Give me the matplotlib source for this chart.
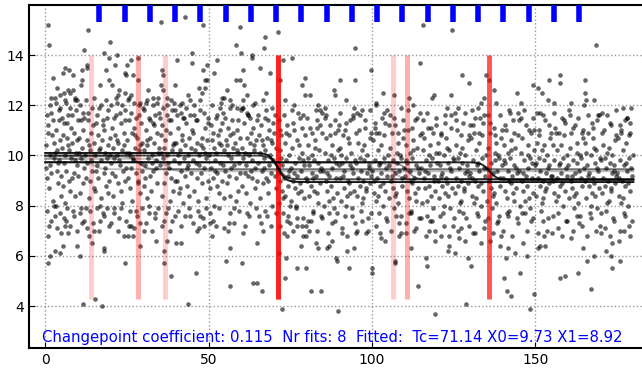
import numpy as np
import matplotlib
matplotlib.use('Agg')
import matplotlib.pyplot as plt

high_pts = """
0.8 15.2 1.2 14.4 13.0 15.0 12.0 14.2 18.1 14.1 19.9 14.5 19.6 13.9 22.1 14.0 26.2 13.8 16.8 12.8
18.7 13.4 21.4 13.6 25.0 13.6 24.7 13.2 26.8 13.2 2.5 13.1 3.6 12.7 2.9 12.3 1.8 12.3 4.6 12.4
5.6 12.5 6.1 13.5 5.4 13.3 7.3 13.4 8.5 13.2 11.2 13.4 12.7 13.6 12.9 13.5 8.5 12.6 6.9 12.6
7.6 12.5 11.0 12.8 11.2 13.0 9.2 12.2 9.7 12.2 6.3 12.1 19.4 13.0 20.4 12.8 22.4 12.4 22.6 12.6
25.5 12.3 26.2 12.4 24.5 12.5 21.9 12.1 24.3 13.3 28.4 13.0 28.9 12.1 31.4 12.6 32.9 12.3 34.1 12.1
35.5 12.8 35.9 12.6 35.6 13.4 35.9 13.2 37.2 12.3 39.8 12.8 40.3 13.8 38.4 12.2 39.4 12.1 42.0 12.1
43.7 12.4 44.3 12.2 45.0 13.7 44.9 14.1 48.3 13.4 48.9 13.0 49.6 13.6 47.2 12.7 47.9 12.5 49.4 13.0
51.5 13.3 28.3 13.9 30.8 12.1 35.4 15.3 42.9 15.5 48.3 15.2 59.7 15.1 71.1 14.9 67.3 14.7 67.1 14.3
58.4 14.4 59.9 14.1 63.4 14.0 63.3 13.9 52.7 13.8 65.6 13.5 60.4 13.4 68.9 13.3 72.8 13.8 75.5 13.9
71.9 13.0 79.6 13.1 94.7 14.3 90.1 13.0 94.7 13.0 99.8 13.4 78.6 12.8 88.3 12.6 88.8 12.4 79.6 12.4
67.5 12.5 58.5 13.0 60.7 12.8 59.5 13.0 55.7 12.6 54.2 12.3 54.7 12.3 56.7 12.2 61.7 12.4 48.8 12.7
101.2 12.1 106.8 12.4 111.4 12.3 53.5 11.9 56.7 11.9 58.7 11.9 60.2 11.9 61.7 11.7 62.2 11.6 64.2 12.1
83.5 12.0 84.0 11.8 78.9 11.6 94.4 11.9 94.1 11.5 89.9 11.2 83.1 11.1 101.3 12.0 73.5 12.2 76.0 12.0
81.0 12.4 85.5 11.9 92.0 12.2 97.0 11.8 103.5 12.5 109.0 11.9 112.5 12.0 104.5 11.8
115.6 15.2 124.5 15.0 168.6 14.4 114.8 13.7 127.5 13.2 129.6 12.9 134.9 13.2 135.7 13.0 137.4 12.6
144.4 12.5 149.3 12.8 150.7 12.7 152.0 12.5 154.1 13.0 157.4 13.2 157.6 12.9 165.1 13.0 165.1 12.5
165.6 12.2 167.8 12.2 124.3 12.4 118.4 12.3 119.1 12.4 134.2 12.3 133.5 12.1 138.0 12.1 145.7 12.1
153.9 12.2 155.6 12.1 160.9 12.1 164.8 12.0 176.8 11.9 179.3 11.9 141.8 11.8 151.3 11.7 130.6 11.8
132.3 11.9 123.0 11.9 126.3 11.9 169.6 11.6 178.2 11.5
"""

low_pts = """
0.8 5.7 1.5 6.0 0.8 6.8 1.2 7.2 2.9 6.2 4.6 6.1 5.3 6.4 4.8 6.9 7.1 6.9 6.1 7.2
9.7 6.4 10.5 6.0 10.7 7.7 13.3 6.8 14.8 7.0 14.3 6.5 15.1 4.3 11.7 4.1 17.5 4.0 18.1 6.3
17.9 6.2 16.8 7.4 19.4 7.2 24.0 6.8 25.3 6.8 26.8 6.8 24.3 5.7 29.1 6.4 30.1 7.0 29.1 7.3
25.5 7.2 33.9 6.6 36.2 6.2 36.4 5.7 38.5 5.2 37.2 6.6 40.0 6.5 41.5 6.5 38.8 7.4 43.7 4.1
46.2 5.3 47.0 7.1 50.3 7.3 55.3 5.8 56.5 6.3 56.5 4.8 60.2 5.7 60.5 6.9 63.5 4.9 64.9 4.9
66.4 4.6 64.8 6.5 66.6 7.0 68.0 7.6 56.0 7.0 52.4 7.2 50.9 6.8 72.6 3.9 73.5 5.1 73.8 5.9
74.0 6.8 71.4 6.1 77.0 5.5 79.9 5.5 78.2 6.4 81.3 4.6 84.3 4.6 82.9 6.5 83.6 6.3 86.8 6.4
86.1 6.3 87.8 6.6 89.0 5.9 89.3 5.8 89.6 3.8 90.8 6.9 92.3 6.2 93.0 5.5 94.6 6.3 95.2 6.9
99.9 5.5 100.0 5.3 98.9 7.0 102.5 6.9 106.9 5.8 107.1 5.7 108.3 6.8 114.1 4.8 78.7 7.2 80.7 7.0
79.7 6.8 74.0 7.4 77.0 7.2 119.4 3.7 119.4 6.6 116.8 5.6 116.5 5.9 123.2 6.2 123.7 6.4 125.5 6.1
126.6 6.7 128.6 6.6 129.4 5.9 130.3 5.6 128.8 4.1 133.5 6.5 139.1 6.4 139.6 6.8 140.9 5.9 140.3 5.1
141.3 4.6 142.6 4.4 141.7 6.3 143.9 6.1 145.4 5.3 146.2 6.5 147.4 6.0 148.5 3.9 149.5 4.5 150.7 6.3
151.3 6.4 153.0 6.4 152.5 6.8 157.4 5.1 159.2 5.2 163.1 5.3 164.7 6.3 165.9 5.8 167.0 4.7 167.8 6.0
173.5 5.5 173.3 6.0 173.5 6.5 176.0 5.8 175.5 6.6 179.1 6.8 177.1 7.0 127.2 7.1 104.0 6.6 110.5 6.9
112.0 6.3 113.0 7.0 117.5 7.0 121.0 6.8 131.5 6.9 136.0 6.6 155.0 6.9 161.0 6.7 170.0 6.9 171.5 6.2
"""

# points on the edges of the dense band
edge_pts = """
0.4 11.6 1.5 12.0 2.4 11.4 3.3 12.1 4.2 11.8 5.0 11.5 5.9 12.2 6.6 11.3 7.5 11.9 8.2 11.6 9.0 12.3 9.9 11.4
10.7 12.0 11.6 11.7 12.5 12.2 13.2 11.4 14.2 11.9 15.0 12.3 15.9 11.6 17.0 12.0 17.7 11.4 18.5 12.2 19.1 11.8
20.0 12.0 20.9 11.5 21.8 12.3 22.8 11.7 23.5 12.0 24.4 11.4 25.2 12.2 26.1 11.7 27.1 12.1 27.8 11.5 28.7 12.0
29.4 11.3 30.2 11.8 31.1 12.2 32.1 11.4 33.0 12.0 33.7 11.6 34.6 12.3 35.2 11.5 36.1 11.9 37.3 12.0 38.0 11.4
38.9 11.8 40.2 11.6 41.1 12.0 42.1 11.5 43.0 11.9 44.2 11.6 45.4 12.0 46.4 11.4 47.3 12.2 48.5 11.7 49.9 11.5
51.1 12.0 52.5 11.6 53.9 12.1 55.0 11.5 57.1 12.0 58.9 11.4 60.4 12.2 62.8 11.5 63.7 12.0 65.2 11.6 66.8 12.2
68.2 11.4 69.4 11.9 70.3 11.6
0.6 7.8 1.7 7.4 2.7 8.0 3.6 7.1 4.4 7.7 5.7 7.5 6.8 7.9 7.7 7.2 8.8 7.6 9.6 7.0 10.9 7.9 11.8 7.4 12.8 7.1
13.7 7.8 14.5 7.3 15.7 7.9 16.6 7.0 18.0 7.6 18.9 7.9 20.2 7.3 21.1 7.7 22.3 7.0 23.2 7.9 24.6 7.4 25.9 7.8
27.3 7.1 28.2 7.6 29.7 7.9 30.7 7.3 31.8 7.7 32.8 7.0 33.5 7.5 34.4 7.9 35.7 7.2 37.1 7.7 38.2 7.0 39.6 7.6
40.7 7.8 41.6 7.2 42.8 7.6 43.9 7.9 45.2 7.3 46.6 7.0 47.5 7.6 48.7 7.2 49.2 7.9 51.4 7.4 53.2 7.9 54.6 7.1
56.4 7.7 57.8 7.3 59.2 7.8 61.1 7.2 62.5 7.6 64.4 7.9 65.9 7.3 67.3 7.8 69.2 7.2 70.6 7.7
72.0 11.0 73.2 11.6 74.6 10.8 75.9 11.3 77.3 11.7 78.5 11.1 80.2 11.5 81.6 10.9 82.8 11.8 84.2 11.2 85.9 11.6
87.3 10.8 88.7 11.4 90.2 11.7 91.6 11.0 93.2 11.4 95.0 10.9 96.4 11.6 98.0 11.1 99.4 11.8 100.9 11.3 102.3 10.9
103.7 11.7 105.2 11.2 106.6 11.5 108.0 10.9 109.6 11.4 111.1 11.8 112.3 11.1 113.9 11.5 115.4 10.9 116.8 11.7
118.2 11.1 119.6 11.5 121.1 10.8 122.5 11.6 124.2 11.1 125.7 11.4 127.1 10.8 128.5 11.7 130.0 11.2 131.4 11.5
132.8 10.9 134.4 11.6 136.1 11.3 137.5 10.8 139.2 11.6 140.7 11.2 142.1 11.7 143.5 10.9 145.0 11.4 146.6 11.8
148.0 11.0 149.4 11.5 151.0 10.8 152.3 11.6 154.2 11.2 155.7 11.7 157.3 10.9 158.8 11.4 160.2 11.8 161.6 11.1
163.0 11.5 164.4 10.9 166.1 11.6 167.5 11.1 169.0 11.4 170.4 10.9 171.8 11.6 173.2 11.2 174.6 11.8 176.1 11.0
177.5 11.4 178.9 10.9
71.8 7.2 73.0 6.9 74.4 7.6 75.7 7.0 77.1 7.5 78.9 6.8 80.4 7.4 81.8 7.7 83.2 7.0 84.6 7.5 86.4 6.9 87.8 7.3
89.4 7.7 90.9 7.1 92.5 6.8 93.9 7.6 95.4 7.0 96.8 7.4 98.2 6.9 99.6 7.7 101.1 7.2 102.8 6.7 104.2 7.5 105.7 7.0
107.3 7.6 108.9 6.9 110.4 7.3 111.8 7.7 113.5 7.1 115.0 7.5 116.4 6.8 117.8 7.4 119.2 7.0 120.7 7.6 122.1 7.2
123.5 6.8 125.0 7.5 126.4 7.0 127.8 7.7 129.6 7.2 131.0 6.9 132.5 7.6 134.2 7.1 135.6 7.5 137.1 6.9 138.6 7.4
140.0 7.0 141.6 7.6 143.0 6.8 144.6 7.3 146.0 7.7 147.5 7.0 149.2 7.5 150.9 6.9 152.2 7.4 153.7 7.0 155.3 7.6
156.8 7.1 158.2 6.8 159.6 7.4 161.4 7.0 162.8 7.6 164.2 7.2 165.7 6.8 167.1 7.5 168.5 7.0 170.0 7.7 171.4 7.1
172.8 6.8 174.2 7.4 175.9 7.0 177.3 7.6 178.7 7.2
"""

# dense band before the changepoint
mid_pts_a = """
0.2 10.4 0.5 9.1 0.9 11.2 1.1 8.7 1.4 10.0 1.6 9.6 1.9 11.7 2.1 10.8 2.3 8.2 2.6 9.9 2.8 10.5 3.0 7.6 3.2 11.0 3.5 9.4
3.7 10.2 3.9 8.9 4.1 11.4 4.3 9.8 4.5 10.6 4.7 8.4 4.9 9.2 0.7 10.9 1.8 9.3 2.9 10.1 3.4 8.0 4.0 9.7 4.4 11.9 0.1 9.5
5.1 10.3 5.3 8.8 5.6 9.7 5.8 11.3 6.0 10.0 6.2 8.1 6.5 9.4 6.7 10.7 6.9 11.6 7.2 9.0 7.4 10.2 7.6 8.6 7.8 9.9 8.0 11.1
8.3 10.5 8.5 7.8 8.7 9.3 8.9 10.9 9.1 8.4 9.3 10.1 9.5 11.8 9.8 9.6 5.5 10.8 6.4 7.4 7.1 10.4 8.1 9.1 9.0 9.8 9.7 10.6
10.1 9.2 10.3 10.7 10.6 8.5 10.8 11.4 11.0 9.9 11.3 10.3 11.5 8.9 11.7 11.0 12.0 9.5 12.2 10.0 12.4 7.9 12.7 10.6 12.9 9.7 13.1 11.7
13.4 8.3 13.6 10.2 13.8 9.0 14.1 10.9 14.3 9.4 14.6 11.2 14.8 8.7 10.4 10.1 11.2 7.3 11.9 11.5 12.6 9.1 13.3 10.4 14.0 9.8 14.9 10.5
15.1 10.0 15.3 8.6 15.5 11.3 15.8 9.6 16.0 10.8 16.2 9.1 16.5 11.9 16.7 8.0 16.9 10.3 17.2 9.8 17.4 10.6 17.6 7.7 17.9 9.3 18.1 11.0
18.3 10.1 18.6 8.8 18.8 9.9 19.0 11.5 19.2 10.4 19.5 9.0 19.7 10.7 15.6 9.4 16.4 10.2 17.1 8.3 17.8 11.2 18.4 9.5 19.3 8.5 19.9 10.0
20.1 9.7 20.3 11.1 20.6 10.3 20.8 8.4 21.0 9.9 21.3 10.8 21.5 9.2 21.7 11.6 22.0 10.0 22.2 8.9 22.4 10.5 22.7 7.5 22.9 9.6 23.1 11.3
23.4 10.2 23.6 8.1 23.8 9.4 24.1 10.9 24.3 9.0 24.5 11.8 24.8 10.1 20.4 9.3 21.2 7.9 21.9 10.6 22.5 9.8 23.3 8.6 24.0 10.4 24.7 9.5
25.1 10.6 25.3 9.1 25.6 11.4 25.8 8.7 26.0 10.0 26.3 9.5 26.5 10.9 26.7 8.2 27.0 9.8 27.2 11.1 27.4 10.3 27.7 9.3 27.9 7.8 28.1 10.7
28.4 9.0 28.6 11.6 28.8 10.2 29.1 8.5 29.3 9.7 29.5 10.5 29.8 11.9 25.5 10.1 26.2 7.2 26.9 9.9 27.6 10.8 28.3 8.9 29.0 10.4 29.6 9.4
30.1 10.2 30.3 8.8 30.6 9.6 30.8 11.0 31.0 10.4 31.3 8.3 31.5 9.9 31.7 11.5 32.0 9.2 32.2 10.7 32.4 8.6 32.7 10.0 32.9 11.3 33.1 9.4
33.4 10.5 33.6 7.7 33.8 9.8 34.1 10.9 34.3 8.9 34.5 10.1 34.8 11.7 30.5 9.1 31.2 10.6 31.9 8.0 32.6 9.7 33.3 11.2 34.0 9.5 34.7 10.3
35.1 9.6 35.3 10.8 35.6 8.4 35.8 11.2 36.0 9.9 36.3 10.3 36.5 8.9 36.7 10.6 37.0 9.3 37.2 11.6 37.4 10.0 37.7 7.9 37.9 9.5 38.1 10.9
38.4 9.1 38.6 11.4 38.8 10.2 39.1 8.6 39.3 9.8 39.5 10.5 39.8 9.0 35.5 10.1 36.2 7.4 36.9 11.0 37.6 9.7 38.3 8.2 39.0 10.4 39.7 11.8
40.1 10.5 40.3 9.0 40.6 11.1 40.8 8.5 41.0 9.7 41.3 10.2 41.5 11.7 41.7 9.4 42.0 10.8 42.2 8.1 42.4 9.9 42.7 10.4 42.9 9.2 43.1 11.3
43.4 8.8 43.6 10.0 43.8 9.6 44.1 10.7 44.3 7.6 44.5 9.3 44.8 11.0 40.5 10.0 41.2 8.7 41.9 10.6 42.6 11.5 43.3 9.5 44.0 8.4 44.7 10.3
45.1 9.8 45.3 10.9 45.6 8.6 45.8 10.2 46.0 11.4 46.3 9.1 46.5 10.5 46.7 7.8 47.0 9.6 47.2 10.0 47.4 11.8 47.7 9.3 47.9 10.7 48.1 8.9
48.4 10.3 48.6 9.5 48.8 11.1 49.1 8.3 49.3 9.9 49.5 10.6 49.8 9.0 45.5 11.6 46.2 9.7 46.9 8.2 47.6 10.4 48.3 7.5 49.0 10.1 49.7 11.3
50.1 10.0 50.3 8.7 50.6 11.2 50.8 9.5 51.0 10.6 51.3 9.1 51.5 10.3 51.7 8.0 52.0 9.8 52.2 11.5 52.4 10.1 52.7 9.3 52.9 10.8 53.1 8.5
53.4 9.7 53.6 11.0 53.8 10.4 54.1 9.0 54.3 11.7 54.5 9.6 54.8 10.2 50.5 7.7 51.2 10.9 51.9 9.4 52.6 8.8 53.3 10.5 54.0 11.3 54.7 8.3
55.1 9.4 55.3 10.6 55.6 8.9 55.8 11.1 56.0 10.0 56.3 9.2 56.5 10.8 56.7 8.4 57.0 9.9 57.2 11.4 57.4 10.3 57.7 9.6 57.9 7.9 58.1 10.5
58.4 9.1 58.6 11.0 58.8 10.2 59.1 8.6 59.3 9.7 59.5 10.7 59.8 11.8 55.5 10.4 56.2 7.3 56.9 9.5 57.6 10.9 58.3 8.2 59.0 10.1 59.6 9.3
60.1 10.3 60.3 8.8 60.6 9.9 60.8 11.3 61.0 10.1 61.3 8.5 61.5 9.6 61.7 10.7 62.0 9.2 62.2 11.6 62.4 10.0 62.7 8.1 62.9 9.4 63.1 10.9
63.4 9.8 63.6 11.1 63.8 10.4 64.1 8.7 64.3 9.5 64.5 10.6 64.8 9.0 60.5 11.9 61.2 9.3 61.9 7.7 62.6 10.5 63.3 9.1 64.0 10.2 64.7 11.4
65.1 9.7 65.3 10.8 65.6 8.3 65.8 10.1 66.0 11.2 66.3 9.4 66.5 10.4 66.7 8.9 67.0 9.9 67.2 11.5 67.4 10.2 67.7 9.1 67.9 10.7 68.1 8.5
68.4 9.6 68.6 11.0 68.8 10.0 69.1 9.3 69.3 10.5 69.5 8.0 69.8 9.8 70.1 10.9 70.4 9.2 70.7 10.3 65.5 7.6 66.2 10.6 66.9 9.5 67.6 11.8
68.3 9.0 69.0 10.6 69.7 11.3 70.5 8.7
"""

# dense band after the changepoint
mid_pts_b = """
71.2 9.3 71.4 8.1 71.7 10.2 71.9 9.0 72.1 10.8 72.4 8.6 72.6 9.6 72.8 7.7 73.1 9.1 73.3 10.5 73.5 8.4 73.8 9.8 74.0 11.2 74.2 8.8
74.5 9.4 74.7 10.0 74.9 7.3 71.5 11.4 72.2 9.9 72.9 8.3 73.6 10.9 74.3 9.2 74.8 8.0
75.1 9.5 75.3 8.2 75.6 10.3 75.8 9.0 76.0 11.0 76.3 8.7 76.5 9.7 76.7 7.9 77.0 9.2 77.2 10.6 77.4 8.5 77.7 9.9 77.9 11.5 78.1 8.9
78.4 9.4 78.6 10.1 78.8 7.5 79.1 9.6 79.3 8.3 79.5 10.8 79.8 9.1 75.5 11.8 76.2 9.3 76.9 8.0 77.6 10.4 78.3 8.6 79.0 9.8 79.7 7.2
80.1 9.0 80.3 10.4 80.6 8.4 80.8 9.6 81.0 11.1 81.3 8.8 81.5 9.3 81.7 10.0 82.0 7.8 82.2 9.8 82.4 8.6 82.7 10.6 82.9 9.2 83.1 11.4
83.4 8.1 83.6 9.7 83.8 10.2 84.1 8.9 84.3 9.5 84.5 7.6 84.8 10.9 80.5 9.9 81.2 7.4 81.9 9.1 82.6 10.3 83.3 8.5 84.0 9.4 84.7 11.7
85.1 9.4 85.3 8.0 85.6 10.1 85.8 9.0 86.0 10.7 86.3 8.6 86.5 9.8 86.7 7.7 87.0 9.2 87.2 11.2 87.4 8.8 87.7 9.5 87.9 10.4 88.1 8.3
88.4 9.9 88.6 10.9 88.8 7.4 89.1 9.1 89.3 8.5 89.5 10.2 89.8 9.6 85.5 11.5 86.2 9.3 86.9 8.2 87.6 10.0 88.3 7.9 89.0 9.7 89.7 11.0
90.1 9.1 90.3 10.3 90.6 8.2 90.8 9.7 91.0 10.8 91.3 8.7 91.5 9.4 91.7 7.6 92.0 9.9 92.2 11.3 92.4 8.4 92.7 9.0 92.9 10.5 93.1 8.9
93.4 9.6 93.6 10.1 93.8 7.9 94.1 9.3 94.3 11.6 94.5 8.6 94.8 9.8 90.5 10.0 91.2 9.2 91.9 8.0 92.6 10.7 93.3 8.5 94.0 9.5 94.7 7.3
95.1 9.7 95.3 8.4 95.6 10.5 95.8 9.1 96.0 11.0 96.3 8.8 96.5 9.4 96.7 7.8 97.0 10.2 97.2 9.0 97.4 8.3 97.7 9.8 97.9 11.4 98.1 8.6
98.4 9.3 98.6 10.0 98.8 7.5 99.1 9.6 99.3 8.9 99.5 10.7 99.8 9.2 95.5 11.7 96.2 9.9 96.9 8.1 97.6 10.4 98.3 8.7 99.0 9.5 99.7 10.9
100.1 9.4 100.3 10.6 100.6 8.5 100.8 9.8 101.0 11.1 101.3 8.2 101.5 9.1 101.7 10.2 102.0 7.7 102.2 9.6 102.4 8.8 102.7 10.4 102.9 9.3 103.1 11.5
103.4 8.0 103.6 9.9 103.8 10.8 104.1 8.6 104.3 9.5 104.5 7.4 104.8 10.0 100.5 9.0 101.2 10.9 101.9 8.4 102.6 9.7 103.3 8.9 104.0 11.3 104.7 9.2
105.1 9.6 105.3 8.3 105.6 10.3 105.8 9.0 106.0 10.9 106.3 8.7 106.5 9.8 106.7 7.9 107.0 9.3 107.2 11.2 107.4 8.5 107.7 9.7 107.9 10.5 108.1 8.1
108.4 9.4 108.6 10.0 108.8 7.6 109.1 9.1 109.3 8.8 109.5 10.7 109.8 9.5 105.5 11.6 106.2 9.2 106.9 8.4 107.6 10.1 108.3 7.3 109.0 9.9 109.7 11.0
110.1 9.2 110.3 10.4 110.6 8.6 110.8 9.7 111.0 11.0 111.3 8.3 111.5 9.4 111.7 10.1 112.0 7.8 112.2 9.9 112.4 8.9 112.7 10.6 112.9 9.1 113.1 11.4
113.4 8.2 113.6 9.6 113.8 10.3 114.1 8.7 114.3 9.3 114.5 7.5 114.8 10.8 110.5 9.8 111.2 7.7 111.9 9.0 112.6 10.2 113.3 8.5 114.0 9.5 114.7 11.7
115.1 9.5 115.3 8.1 115.6 10.2 115.8 9.1 116.0 10.7 116.3 8.7 116.5 9.8 116.7 7.6 117.0 9.3 117.2 11.1 117.4 8.8 117.7 9.6 117.9 10.4 118.1 8.4
118.4 9.9 118.6 10.9 118.8 7.9 119.1 9.2 119.3 8.6 119.5 10.1 119.8 9.7 115.5 11.4 116.2 9.4 116.9 8.2 117.6 10.0 118.3 7.4 119.0 9.0 119.7 11.2
120.1 9.0 120.3 10.5 120.6 8.3 120.8 9.6 121.0 10.9 121.3 8.8 121.5 9.3 121.7 7.7 122.0 10.0 122.2 11.3 122.4 8.5 122.7 9.1 122.9 10.3 123.1 8.9
123.4 9.7 123.6 10.2 123.8 7.9 124.1 9.4 124.3 11.6 124.5 8.7 124.8 9.9 120.5 10.1 121.2 9.2 121.9 8.0 122.6 10.7 123.3 8.4 124.0 9.5 124.7 7.2
125.1 9.8 125.3 8.5 125.6 10.4 125.8 9.1 126.0 11.0 126.3 8.8 126.5 9.5 126.7 7.8 127.0 10.1 127.2 9.0 127.4 8.2 127.7 9.7 127.9 11.3 128.1 8.6
128.4 9.3 128.6 10.0 128.8 7.5 129.1 9.6 129.3 8.9 129.5 10.6 129.8 9.2 125.5 11.7 126.2 9.9 126.9 8.1 127.6 10.3 128.3 8.7 129.0 9.4 129.7 10.8
130.1 9.3 130.3 10.7 130.6 8.4 130.8 9.8 131.0 11.2 131.3 8.1 131.5 9.0 131.7 10.2 132.0 7.7 132.2 9.6 132.4 8.8 132.7 10.5 132.9 9.4 133.1 11.5
133.4 8.0 133.6 9.9 133.8 10.8 134.1 8.6 134.3 9.5 134.5 7.4 134.8 10.0 130.5 9.1 131.2 10.9 131.9 8.3 132.6 9.7 133.3 8.9 134.0 11.3 134.7 9.2
135.1 9.5 135.3 8.2 135.6 10.3 135.8 9.0 136.0 10.9 136.3 8.7 136.5 9.7 136.7 7.9 137.0 9.3 137.2 11.1 137.4 8.5 137.7 9.8 137.9 10.5 138.1 8.1
138.4 9.4 138.6 10.0 138.8 7.6 139.1 9.1 139.3 8.8 139.5 10.7 139.8 9.6 135.5 11.6 136.2 9.2 136.9 8.4 137.6 10.1 138.3 7.3 139.0 9.9 139.7 11.0
140.1 9.1 140.3 10.4 140.6 8.6 140.8 9.7 141.0 11.0 141.3 8.3 141.5 9.4 141.7 10.1 142.0 7.8 142.2 9.9 142.4 8.9 142.7 10.6 142.9 9.2 143.1 11.4
143.4 8.2 143.6 9.6 143.8 10.3 144.1 8.7 144.3 9.3 144.5 7.5 144.8 10.8 140.5 9.8 141.2 7.7 141.9 9.0 142.6 10.2 143.3 8.5 144.0 9.5 144.7 11.7
145.1 9.4 145.3 8.0 145.6 10.1 145.8 9.0 146.0 10.7 146.3 8.6 146.5 9.8 146.7 7.7 147.0 9.2 147.2 11.2 147.4 8.8 147.7 9.5 147.9 10.4 148.1 8.3
148.4 9.9 148.6 10.9 148.8 7.4 149.1 9.1 149.3 8.5 149.5 10.2 149.8 9.6 145.5 11.5 146.2 9.3 146.9 8.2 147.6 10.0 148.3 7.9 149.0 9.7 149.7 11.0
150.1 9.7 150.3 8.4 150.6 10.5 150.8 9.1 151.0 11.0 151.3 8.8 151.5 9.4 151.7 7.8 152.0 10.2 152.2 9.0 152.4 8.3 152.7 9.8 152.9 11.4 153.1 8.6
153.4 9.3 153.6 10.0 153.8 7.5 154.1 9.6 154.3 8.9 154.5 10.7 154.8 9.2 150.5 11.7 151.2 9.9 151.9 8.1 152.6 10.4 153.3 8.7 154.0 9.5 154.7 10.9
155.1 9.2 155.3 10.4 155.6 8.5 155.8 9.8 156.0 11.1 156.3 8.2 156.5 9.1 156.7 10.2 157.0 7.7 157.2 9.6 157.4 8.8 157.7 10.4 157.9 9.3 158.1 11.5
158.4 8.0 158.6 9.9 158.8 10.8 159.1 8.6 159.3 9.5 159.5 7.4 159.8 10.0 155.5 9.0 156.2 10.9 156.9 8.4 157.6 9.7 158.3 8.9 159.0 11.3 159.7 9.2
160.1 9.6 160.3 8.3 160.6 10.3 160.8 9.0 161.0 10.9 161.3 8.7 161.5 9.8 161.7 7.9 162.0 9.3 162.2 11.2 162.4 8.5 162.7 9.7 162.9 10.5 163.1 8.1
163.4 9.4 163.6 10.0 163.8 7.6 164.1 9.1 164.3 8.8 164.5 10.7 164.8 9.5 160.5 11.6 161.2 9.2 161.9 8.4 162.6 10.1 163.3 7.3 164.0 9.9 164.7 11.0
165.1 9.0 165.3 10.5 165.6 8.3 165.8 9.6 166.0 10.9 166.3 8.8 166.5 9.3 166.7 7.7 167.0 10.0 167.2 11.3 167.4 8.5 167.7 9.1 167.9 10.3 168.1 8.9
168.4 9.7 168.6 10.2 168.8 7.9 169.1 9.4 169.3 11.6 169.5 8.7 169.8 9.9 165.5 10.1 166.2 9.2 166.9 8.0 167.6 10.7 168.3 8.4 169.0 9.5 169.7 7.2
170.1 9.8 170.3 8.5 170.6 10.4 170.8 9.1 171.0 11.0 171.3 8.8 171.5 9.5 171.7 7.8 172.0 10.1 172.2 9.0 172.4 8.2 172.7 9.7 172.9 11.3 173.1 8.6
173.4 9.3 173.6 10.0 173.8 7.5 174.1 9.6 174.3 8.9 174.5 10.6 174.8 9.2 170.5 11.7 171.2 9.9 171.9 8.1 172.6 10.3 173.3 8.7 174.0 9.4 174.7 10.8
175.1 9.3 175.3 10.7 175.6 8.4 175.8 9.8 176.0 11.2 176.3 8.1 176.5 9.0 176.7 10.2 177.0 7.7 177.2 9.6 177.4 8.8 177.7 10.5 177.9 9.4 178.1 11.5
178.4 8.0 178.6 9.9 178.8 10.8 179.1 8.6 179.3 9.5 179.5 7.4 179.8 10.0 175.5 9.1 176.2 10.9 176.9 8.3 177.6 9.7 178.3 8.9 179.0 11.3 179.7 9.2
"""

# the 8 sigmoid fits: changepoint, level before, level after, weight
fit_tc = [14.1, 28.5, 36.7, 71.1, 71.2, 106.5, 110.8, 135.9]
fit_x0 = [9.87, 9.97, 9.87, 10.1, 10.0, 9.73, 9.73, 9.73]
fit_x1 = [9.45, 9.45, 9.37, 8.94, 9.05, 9.05, 9.05, 9.03]
fit_w = [0.25, 0.4, 0.25, 0.9, 0.7, 0.25, 0.4, 0.85]

# fit window starts shown as rug at the top
windows = [16.5, 24.3, 32.0, 39.7, 47.5, 55.2, 62.9, 70.6, 78.4, 86.1,
           93.9, 101.6, 109.3, 117.0, 124.8, 132.5, 140.2, 148.0, 155.7, 163.4]

info = 'Changepoint coefficient: 0.115  Nr fits: 8  Fitted:  Tc=71.14 X0=9.73 X1=8.92'


def parse(s):
    return np.array(s.split(), dtype=float).reshape(-1, 2)


pts = np.vstack([parse(high_pts), parse(low_pts), parse(edge_pts),
                 parse(mid_pts_a), parse(mid_pts_b)])

fig = plt.figure(figsize=(6.42, 3.68), dpi=100)
ax = fig.add_axes([0.045, 0.0543, 0.967, 0.9326])

ax.scatter(pts[:, 0], pts[:, 1], s=11, c='k', alpha=0.6, linewidths=0, zorder=2)

t = np.linspace(0, 180, 900)
for tc, x0, x1, w in zip(fit_tc, fit_x0, fit_x1, fit_w):
    ax.vlines(tc, 4.3, 14.0, color='red', alpha=w * 0.8, lw=3.5, zorder=3)
    y = x0 + (x1 - x0) / (1 + np.exp(-(t - tc) / 1.2))
    ax.plot(t, y, color='k', alpha=w, lw=1.4, zorder=4)

ax.vlines(windows, 15.3, 16.0, color='blue', lw=4, zorder=5)

ax.text(-1.0, 2.56, info, color='blue', fontsize=10.7, va='baseline')

ax.set_xlim(-5, 185)
ax.set_ylim(2.33, 16.0)
ax.set_xticks([0, 50, 100, 150])
ax.set_yticks([4, 6, 8, 10, 12, 14])
ax.grid(True, ls=':', color='#999999', lw=1)
ax.tick_params(direction='in', labelsize=10, length=4)
for sp in ax.spines.values():
    sp.set_linewidth(1.5)

fig.savefig('out.png', dpi=100)
